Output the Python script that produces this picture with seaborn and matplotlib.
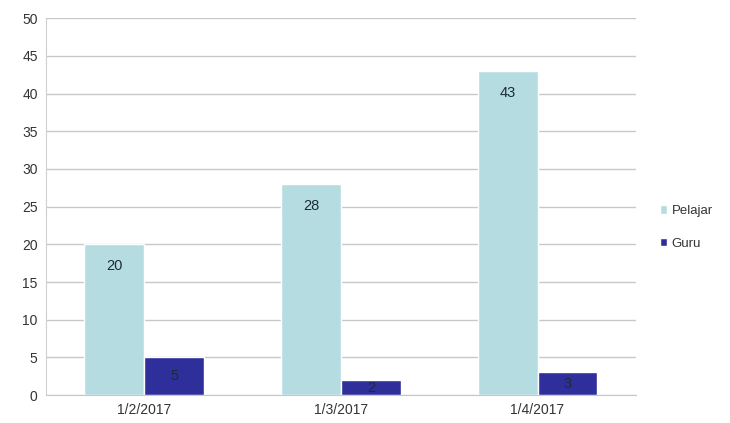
import pandas as pd
import matplotlib.pyplot as plt
import seaborn as sns

dates = ["1/2/2017", "1/3/2017", "1/4/2017"]
pelajar = [20, 28, 43]
guru = [5, 2, 3]

df = pd.DataFrame({
    "Tanggal": dates * 2,
    "Jumlah": pelajar + guru,
    "Kelompok": ["Pelajar"] * 3 + ["Guru"] * 3,
})

sns.set_style("white")
plt.rcParams["font.family"] = ["Liberation Sans", "DejaVu Sans"]

fig = plt.figure(figsize=(7.3, 4.23), dpi=100)
ax = fig.add_axes([0.063, 0.066, 0.808, 0.891])

palette = {"Pelajar": "#b5dde1", "Guru": "#2f2f9c"}
sns.barplot(data=df, x="Tanggal", y="Jumlah", hue="Kelompok", palette=palette,
            width=0.61, saturation=1, ax=ax, legend=True)

# Pelajar labels near the top inside the bar, Guru labels centered
ax.bar_label(ax.containers[0], padding=-21, fontsize=10.5, color="#1c2c34")
ax.bar_label(ax.containers[1], label_type="center", fontsize=10.5, color="#1c2c34")

ax.set_ylim(0, 50)
ax.set_xlim(-0.5, 2.5)
ax.set_yticks(range(0, 51, 5))
ax.yaxis.grid(True, color="#c8c8c8", linewidth=1)
ax.set_axisbelow(True)
for s in ["top", "right"]:
    ax.spines[s].set_visible(False)
ax.spines["left"].set_color("#d0d0d0")
ax.spines["bottom"].set_color("#c8c8c8")
ax.tick_params(axis="both", labelsize=10, colors="#333333", length=0, pad=6)
ax.set_xlabel("")
ax.set_ylabel("")

handles, labels = ax.get_legend_handles_labels()
ax.legend(handles, labels, loc="center left", bbox_to_anchor=(1.02, 0.445),
          frameon=False, fontsize=9.5, handlelength=0.6, handleheight=0.6,
          handletextpad=0.3, labelspacing=1.55, labelcolor="#333333")

fig.savefig("out.png", dpi=100)
